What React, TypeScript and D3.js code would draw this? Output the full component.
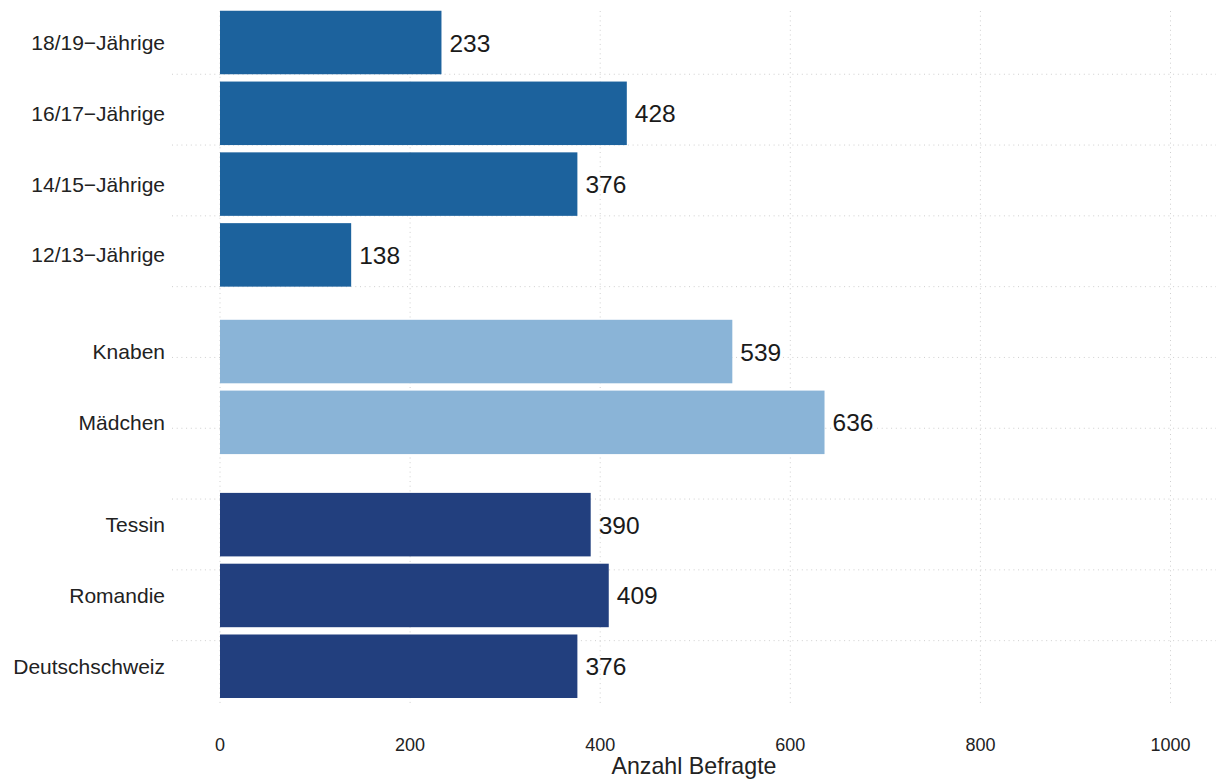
import React from "react";
import * as d3 from "d3";

const categories = [
  "18/19−Jährige",
  "16/17−Jährige",
  "14/15−Jährige",
  "12/13−Jährige",
  "Knaben",
  "Mädchen",
  "Tessin",
  "Romandie",
  "Deutschschweiz",
];
const values = [233, 428, 376, 138, 539, 636, 390, 409, 376];
const groups = ["Alter", "Alter", "Alter", "Alter", "Geschlecht", "Geschlecht", "Region", "Region", "Region"];
const groupNames = ["Alter", "Geschlecht", "Region"];
const groupColors = ["#1C629D", "#8AB4D7", "#223F7E"];
const xTicks = [0, 200, 400, 600, 800, 1000];
const xTitle = "Anzahl Befragte";

const W = 1216;
const H = 780;
const FONT = "'Liberation Sans', Arial, Helvetica, sans-serif";
const groupOffset: Record<string, number> = { Alter: 0, Geschlecht: 0.365, Region: 0.81 };

export default function App() {
  const x = d3.scaleLinear().domain([0, 1000]).range([220, 1170.5]);
  const y = d3.scaleLinear().domain([0, 1]).range([42.5, 42.5 + 70.8]);
  const color = d3.scaleOrdinal<string, string>().domain(groupNames).range(groupColors);
  const barH = 63.5;
  const grid = "#cfcfcf";

  const rows = categories.map((c, i) => ({
    label: c,
    value: values[i],
    group: groups[i],
    cy: y(i + groupOffset[groups[i]]),
    gy: y(i) + barH / 2,
  }));

  return (
    <svg
      width={W}
      height={H}
      style={{ position: "absolute", left: 0, top: 0, display: "block", background: "#fff" }}
      fontFamily={FONT}
    >
      {rows.map((r, i) => (
        <line
          key={"hg" + i}
          x1={172}
          x2={W}
          y1={r.gy}
          y2={r.gy}
          stroke={grid}
          strokeWidth={1}
          strokeDasharray="1,3.7"
        />
      ))}
      {xTicks.map((t) => (
        <line
          key={"vg" + t}
          x1={x(t)}
          x2={x(t)}
          y1={11}
          y2={705}
          stroke={grid}
          strokeWidth={1}
          strokeDasharray="1,3.7"
        />
      ))}
      {rows.map((r, i) => (
        <rect
          key={"b" + i}
          x={x(0)}
          y={r.cy - barH / 2}
          width={x(r.value) - x(0)}
          height={barH}
          fill={color(r.group)}
        />
      ))}
      {rows.map((r, i) => (
        <text key={"v" + i} x={x(r.value) + 8} y={r.cy + 9} fontSize={24.5} fill="#1a1a1a">
          {r.value}
        </text>
      ))}
      {rows.map((r, i) => (
        <text key={"l" + i} x={165} y={r.cy + 7.5} fontSize={21} textAnchor="end" fill="#222">
          {r.label}
        </text>
      ))}
      {xTicks.map((t) => (
        <text key={"xt" + t} x={x(t)} y={751} fontSize={18} textAnchor="middle" fill="#222">
          {t}
        </text>
      ))}
      <text x={694} y={774} fontSize={23.2} textAnchor="middle" fill="#222">
        {xTitle}
      </text>
    </svg>
  );
}
